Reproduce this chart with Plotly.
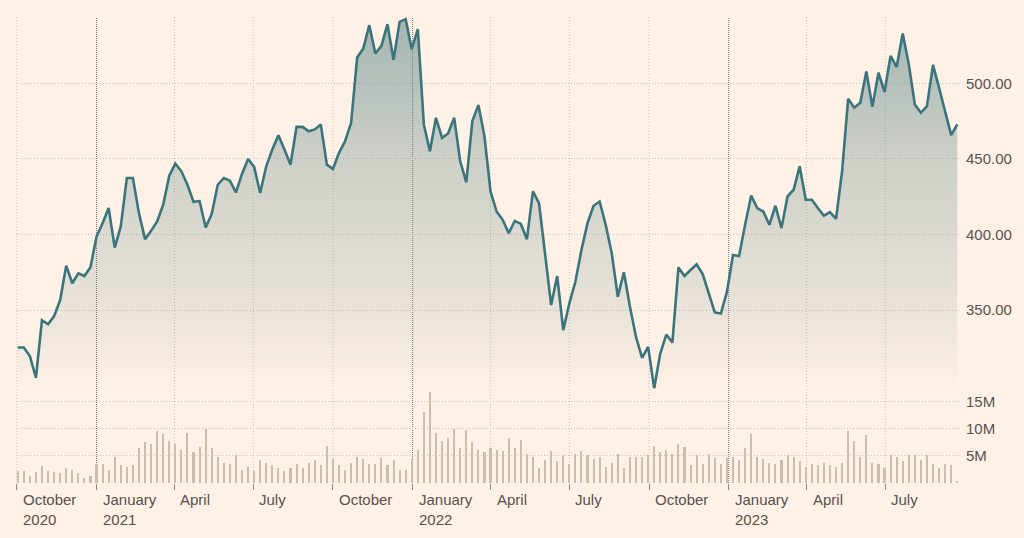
import pandas as pd
import plotly.graph_objects as go

# ---- data -------------------------------------------------------------
start_date = "2020-10-02"      # first weekly observation
price = [
    325.2, 325.2, 319.6, 305.2, 343.3, 340.6, 346.0, 356.6, 379.4, 367.7,
    374.3, 372.5, 378.3, 398.6, 407.5, 417.5, 391.3, 405.3, 437.4, 437.4,
    414.1, 396.9, 402.4, 408.6, 419.7, 438.9, 446.9, 441.8, 432.9, 421.6,
    422.1, 404.6, 413.5, 432.9, 437.4, 435.6, 427.8, 440.0, 450.0, 444.7,
    427.4, 445.1, 456.2, 465.7, 456.2, 446.2, 471.2, 471.2, 468.3, 469.5,
    472.8, 446.2, 443.4, 454.0, 461.7, 473.9, 517.1, 523.0, 538.5, 519.7,
    524.8, 539.2, 515.5, 540.7, 542.5, 522.6, 535.9, 472.8, 455.1, 477.2,
    463.9, 466.8, 477.2, 448.4, 434.5, 475.0, 485.6, 465.0, 428.5, 415.2,
    409.7, 400.9, 409.0, 407.0, 396.9, 428.5, 420.8, 387.0, 353.3, 372.5,
    336.7, 354.4, 368.7, 389.8, 407.5, 419.0, 421.8, 406.4, 387.6, 358.8,
    375.0, 352.2, 332.2, 318.3, 325.6, 298.3, 321.2, 333.8, 328.5, 378.2,
    372.5, 376.5, 380.3, 373.8, 361.0, 348.4, 347.7, 362.0, 386.4, 385.8,
    406.4, 425.8, 417.5, 415.2, 406.4, 419.0, 404.2, 425.2, 429.6, 445.1,
    423.0, 423.0, 417.5, 412.4, 414.8, 410.4, 441.8, 489.8, 483.9, 487.2,
    507.8, 484.5, 507.1, 494.3, 518.2, 510.8, 533.0, 512.6, 486.0, 480.5,
    484.9, 512.2, 497.0, 482.0, 465.7, 472.8,
]
volume_m = [
    2.3, 2.3, 1.4, 2.0, 3.2, 2.3, 2.0, 1.8, 2.8, 2.5,
    1.8, 1.0, 1.4, 3.5, 3.5, 2.5, 4.8, 3.3, 3.0, 3.3,
    6.4, 7.6, 7.3, 9.6, 9.1, 7.8, 7.3, 6.2, 9.3, 5.7,
    6.6, 10.0, 6.4, 4.9, 3.8, 3.5, 5.2, 2.5, 3.0, 2.3,
    4.2, 3.8, 3.3, 2.8, 2.3, 2.8, 3.5, 2.8, 3.8, 4.3,
    3.3, 6.9, 4.5, 3.3, 2.5, 3.8, 4.9, 4.5, 3.5, 3.5,
    4.7, 3.3, 4.3, 2.5, 2.5, 4.5, 6.2, 13.1, 16.7, 9.3,
    7.8, 8.3, 10.0, 6.4, 9.7, 7.6, 6.1, 5.7, 6.4, 6.1,
    5.9, 8.3, 6.5, 8.0, 5.4, 4.9, 2.8, 4.2, 5.9, 4.0,
    5.2, 3.5, 5.4, 5.9, 5.2, 4.5, 4.9, 3.0, 3.8, 5.4,
    2.8, 4.9, 4.9, 4.9, 5.2, 6.9, 5.7, 6.1, 5.4, 7.3,
    6.6, 3.3, 5.2, 3.5, 5.4, 4.7, 3.5, 4.7, 4.9, 4.3,
    6.4, 9.1, 4.9, 4.5, 3.8, 3.5, 4.3, 5.2, 4.9, 4.0,
    3.0, 3.5, 3.3, 3.8, 3.3, 3.0, 3.8, 9.6, 7.8, 4.9,
    8.8, 3.8, 3.5, 2.8, 5.2, 4.9, 4.0, 5.2, 5.2, 4.3,
    5.2, 3.5, 2.8, 3.5, 3.3, 0.4,
]
tick_dates = ["2020-10-01", "2021-01-01", "2021-04-01", "2021-07-01",
              "2021-10-01", "2022-01-01", "2022-04-01", "2022-07-01",
              "2022-10-01", "2023-01-01", "2023-04-01", "2023-07-01"]
tick_labels = ["October<br>2020", "January<br>2021", "April", "July",
               "October", "January<br>2022", "April", "July",
               "October", "January<br>2023", "April", "July"]
price_ticks = [350, 400, 450, 500]
volume_ticks = [5e6, 10e6, 15e6]
volume_tick_labels = ["5M", "10M", "15M"]

# ---- styling -----------------------------------------------------------
BG = "#FFF1E5"
LINE = "#3a757e"
BAR = "#cdbdac"
GRID = "#c9c2ba"
YEAR_GRID = "#7f7a75"
TEXT = "#57524e"
FONT = "Liberation Sans, Arial, sans-serif"

dates = pd.date_range(start_date, periods=len(price), freq="7D")
volume = [v * 1e6 for v in volume_m]

fig = go.Figure()

fig.add_trace(go.Scatter(
    x=dates, y=price, mode="lines",
    line=dict(color=LINE, width=2.6),
    fill="tozeroy",
    fillgradient=dict(
        type="vertical", start=295, stop=544,
        colorscale=[[0, "rgba(100,138,140,0)"],
                    [0.24, "rgba(100,138,140,0.15)"],
                    [0.62, "rgba(100,138,140,0.32)"],
                    [0.91, "rgba(100,138,140,0.53)"],
                    [1, "rgba(100,138,140,0.58)"]]),
    yaxis="y", xaxis="x", showlegend=False, hoverinfo="skip",
))

fig.add_trace(go.Bar(
    x=dates, y=volume, marker=dict(color=BAR, line=dict(width=0)),
    width=2.4 * 86400000, yaxis="y2", xaxis="x", showlegend=False,
))

shapes = []
for d in tick_dates:
    is_year = d.endswith("-01-01")
    shapes.append(dict(
        type="line", xref="x", yref="paper", x0=d, x1=d, y0=0, y1=1,
        line=dict(color=YEAR_GRID if is_year else GRID, width=1,
                  dash="1px,1px" if is_year else "1px,2px"),
        layer="below"))

annotations = []
for d, lab in zip(tick_dates, tick_labels):
    annotations.append(dict(
        x=d, xref="x", y=0, yref="paper", text=lab, showarrow=False,
        xanchor="left", yanchor="top", align="left", xshift=4, yshift=-6,
        font=dict(family=FONT, size=15, color=TEXT)))

fig.update_layout(
    width=1024, height=538,
    margin=dict(l=16, r=62, t=17, b=55),
    paper_bgcolor=BG, plot_bgcolor="rgba(0,0,0,0)",
    bargap=0, showlegend=False,
    shapes=shapes, annotations=annotations,
    font=dict(family=FONT, size=15, color=TEXT),
    xaxis=dict(
        type="date", range=["2020-09-30", "2023-09-24"], anchor="y2",
        showgrid=False, zeroline=False, showline=False,
        tickvals=tick_dates, ticktext=[""] * len(tick_dates),
        ticks="outside", ticklen=6, tickcolor="#8f8983", tickwidth=1,
        showticklabels=False,
    ),
    yaxis=dict(
        domain=[0.1931, 1], range=[295.1, 543.9], side="right", anchor="x",
        tickvals=price_ticks, tickformat=".2f",
        showgrid=True, gridcolor=GRID, griddash="1px,2px", gridwidth=1,
        zeroline=False, showline=False, ticks="", ticklabelstandoff=6,
        tickfont=dict(family=FONT, size=15, color=TEXT),
    ),
    yaxis2=dict(
        domain=[0, 0.2], range=[0, 17.15e6], side="right", anchor="x",
        tickvals=volume_ticks, ticktext=volume_tick_labels,
        showgrid=True, gridcolor=GRID, griddash="1px,2px", gridwidth=1,
        zeroline=False, showline=False, ticks="", ticklabelstandoff=6,
        tickfont=dict(family=FONT, size=15, color=TEXT),
    ),
)

fig.write_html("out.html")
